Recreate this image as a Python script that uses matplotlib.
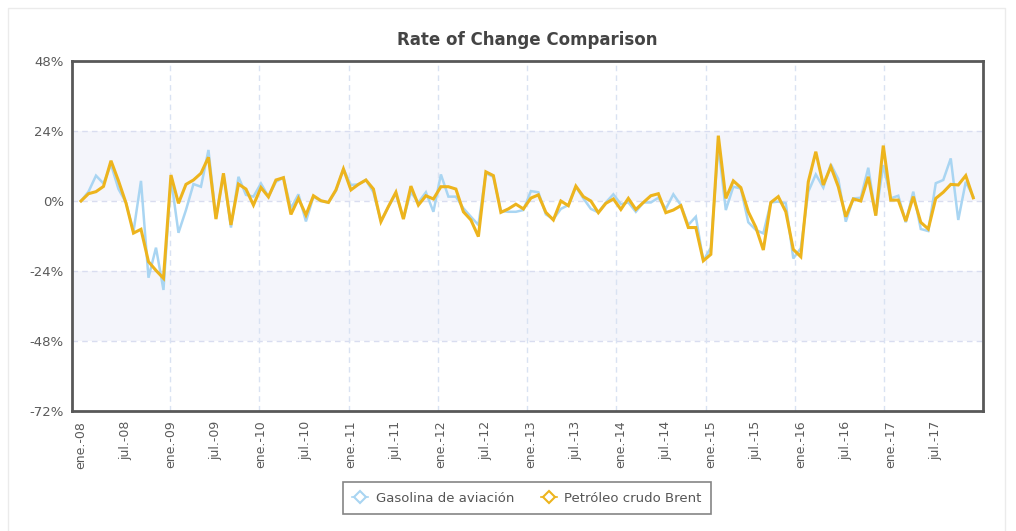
import numpy as np
import matplotlib
matplotlib.use('Agg')
import matplotlib.pyplot as plt
from matplotlib.lines import Line2D
from matplotlib.patches import Rectangle

# datos mensuales ene.-08 .. dic.-17 (tasa de cambio, %)
meses = ['ene.', 'feb.', 'mar.', 'abr.', 'may.', 'jun.',
         'jul.', 'ago.', 'sep.', 'oct.', 'nov.', 'dic.']
anios = list(range(8, 18))
categorias = [f'{m}-{a:02d}' for a in anios for m in meses]

gasolina = [
    0, 3.2, 8.7, 6, 12.5, 4.1, -0.5, -10.5, 6.9, -26.3, -16, -30.5,
    7.8, -10.9, -3.1, 5.8, 4.9, 17.5, -5.9, 9.1, -9.1, 8.3, 2.1, 1.5,
    6, 1.5, 6.6, 8, -2.5, 2.3, -7, 1.5, 0, -0.5, 3.5, 11,
    5.5, 5.7, 7.2, 3, -6.9, -2, 2.6, -6, 3, -0.5, 3, -3.7,
    9.1, 1.5, 1.5, -2.5, -5.4, -8.2, 9.5, 8.3, -3.4, -3.7, -3.7, -3.1,
    3.4, 3, -4.6, -6.2, -2.7, -1.4, 4.9, 0.9, -2.7, -3.9, -0.5, 2.3,
    -1.1, -0.5, -3.7, -0.5, -0.5, 1.1, -2.7, 2.3, -1.4, -8.2, -5.4, -20.5,
    -16, 19, -3.1, 4.9, 4.3, -7.3, -9.9, -11.1, -0.5, -0.2, -0.8, -19.7,
    -16.2, 3.2, 9.1, 4.6, 12.6, 7.5, -7.1, 0.9, 1.1, 11.4, -5, 12.3,
    0.9, 1.8, -7.3, 3.2, -9.6, -10.3, 6.1, 7.2, 14.6, -6.5, 6.6, 1.5,
]

brent = [
    0, 2.5, 3.2, 5, 13.8, 6.9, -0.7, -11, -9.7, -20.8, -23.8, -26.5,
    8.9, -0.8, 5.7, 7.2, 9.5, 15, -6.2, 9.5, -8.2, 5.8, 4.1, -1.4,
    4.6, 1.4, 7.2, 8, -4.6, 0.9, -4.8, 1.8, 0.1, -0.5, 3.8, 11,
    3.8, 5.7, 7.2, 4.1, -7.1, -1.9, 3, -6.2, 5.1, -1.4, 1.8, 0.7,
    4.9, 4.9, 4.1, -3.7, -6.5, -12.2, 10, 8.7, -3.9, -2.7, -1.1, -2.7,
    1, 2.1, -3.9, -6.5, 0, -1.6, 5.1, 1.5, 0, -4, -0.8, 0.7,
    -2.9, 0.9, -2.9, -0.5, 1.8, 2.5, -4, -3.1, -1.6, -9.1, -9.1, -20.5,
    -18.3, 22.4, 0.9, 6.9, 4.6, -3.7, -9, -16.8, -0.5, 1.5, -3.7, -16.6,
    -19.1, 6.6, 16.9, 5.5, 11.8, 4.9, -5.4, 0.7, 0, 8.3, -5, 19,
    0.3, 0.3, -6.9, 1.5, -7.3, -9.6, 0.9, 3, 5.7, 5.5, 8.7, 1.1,
]

y_ticks = [48, 24, 0, -24, -48, -72]

color_gas = '#a9d5f2'
color_brent = '#edb41d'

x = np.arange(len(categorias))

fig = plt.figure(figsize=(10.16, 5.31), dpi=100)
ax = fig.add_axes([72 / 1016, 1 - 411 / 531, 911 / 1016, 350 / 531])

# bandas y rejilla
ax.axhspan(0, 24, color='#f4f5fb', zorder=0, lw=0)
ax.axhspan(-48, -24, color='#f4f5fb', zorder=0, lw=0)
for yv in [24, 0, -24, -48]:
    ax.axhline(yv, color='#d9ddf0', lw=1, ls=(0, (4, 3)), zorder=1)
for xv in np.linspace(0, len(x) - 1, 11)[1:-1]:
    ax.axvline(xv, color='#d9e2f2', lw=1, ls=(0, (4, 3)), zorder=1)

ax.plot(x, gasolina, color=color_gas, lw=1.8, zorder=3, solid_joinstyle='miter')
ax.plot(x, brent, color=color_brent, lw=2.2, zorder=4, solid_joinstyle='miter')

ax.set_xlim(-1.2, 120.3)
ax.set_ylim(-72, 48)
ax.set_yticks(y_ticks)
ax.set_yticklabels([f'{v}%' for v in y_ticks], fontsize=9.5, color='#5a5a5a')
ax.set_xticks(x[::6][:20])
ax.set_xticklabels(categorias[::6][:20], rotation=90, fontsize=9, color='#5a5a5a')
ax.tick_params(axis='both', length=0)
ax.tick_params(axis='x', pad=7)
ax.tick_params(axis='y', pad=6)

for s in ax.spines.values():
    s.set_color('#585858')
    s.set_linewidth(2)

fig.text(527.5 / 1016, 1 - 40 / 531, 'Rate of Change Comparison', ha='center', va='center',
         fontsize=12, fontweight='bold', color='#444444')

handles = [
    Line2D([], [], color=color_gas, lw=1.2, marker='D', markersize=6,
           markerfacecolor='white', markeredgecolor=color_gas, markeredgewidth=1.5),
    Line2D([], [], color=color_brent, lw=1.2, marker='D', markersize=6,
           markerfacecolor='white', markeredgecolor=color_brent, markeredgewidth=1.5),
]
leg = fig.legend(handles, ['Gasolina de aviación', 'Petróleo crudo Brent'],
                 loc='center', bbox_to_anchor=(527 / 1016, 1 - 498 / 531), ncol=2,
                 fontsize=9.5, frameon=True, fancybox=False, handlelength=1.2,
                 columnspacing=2.0, borderpad=0.7, handletextpad=0.6)
leg.get_frame().set_edgecolor('#666666')
leg.get_frame().set_linewidth(1.2)
for t in leg.get_texts():
    t.set_color('#555555')

# marco exterior tenue
fig.patches.append(Rectangle((8 / 1016, -0.01), 997 / 1016, 1 - 8 / 531 + 0.01,
                             transform=fig.transFigure, fill=False,
                             edgecolor='#ebebeb', lw=1))

fig.savefig('out.png', dpi=100)
